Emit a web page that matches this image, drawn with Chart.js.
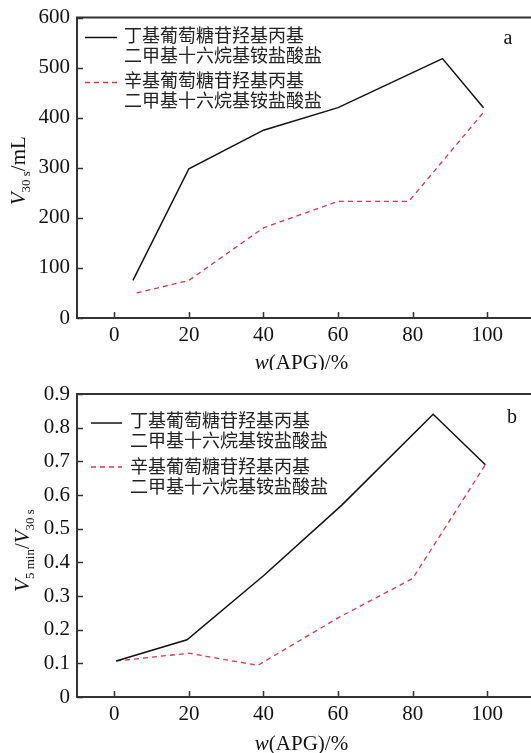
<!DOCTYPE html>
<html>
<head>
<meta charset="utf-8">
<script src="https://cdn.jsdelivr.net/npm/chart.js@4.4.1/dist/chart.umd.min.js"></script>
<style>
  html, body { margin: 0; padding: 0; background: #fff; overflow: hidden; }
  #wrapA { position: absolute; left: 0; top: 0; }
  #wrapB { position: absolute; left: 0; top: 370px; }
</style>
</head>
<body>
<div id="wrapA"><canvas id="chartA" width="532" height="370"></canvas></div>
<div id="wrapB"><canvas id="chartB" width="532" height="383"></canvas></div>
<script>
// data
const xTicks = [0, 20, 40, 60, 80, 100];
const yTicksA = [0, 100, 200, 300, 400, 500, 600];
const yTicksB = [0, 0.1, 0.2, 0.3, 0.4, 0.5, 0.6, 0.7, 0.8, 0.9];

const labelButyl = ['丁基葡萄糖苷羟基丙基', '二甲基十六烷基铵盐酸盐'];
const labelOctyl = ['辛基葡萄糖苷羟基丙基', '二甲基十六烷基铵盐酸盐'];

// panel a: V30s / mL
const xA_butyl = [5, 20, 40, 60, 88, 99];
const yA_butyl = [75, 298, 375, 420, 518, 420];
const xA_octyl = [6, 20, 40, 60, 79, 99.5];
const yA_octyl = [50, 75, 180, 233, 233, 415];

// panel b: V5min / V30s
const xB_butyl = [0.5, 19.5, 40, 61, 85.5, 99.5];
const yB_butyl = [0.107, 0.17, 0.36, 0.57, 0.84, 0.69];
const xB_octyl = [0.5, 20, 38.5, 60, 80, 99.5];
const yB_octyl = [0.107, 0.13, 0.094, 0.235, 0.352, 0.69];

const SERIF = '"Liberation Serif", "Times New Roman", serif';
const CJK = '"Noto Sans CJK SC", sans-serif';
const RED = '#e2324a';

function pts(xs, ys) { return xs.map((x, i) => ({ x: x, y: ys[i] })); }

// draw mixed text (italic / subscript pieces) centred at 0,0 of current transform
function drawRich(ctx, parts, size) {
  const fontOf = p => (p.italic ? 'italic ' : '') + (p.sub ? Math.round(size * 0.62) : size) + 'px ' + SERIF;
  let total = 0;
  parts.forEach(p => { ctx.font = fontOf(p); total += ctx.measureText(p.t).width; });
  let x = -total / 2;
  ctx.textAlign = 'left';
  ctx.textBaseline = 'alphabetic';
  parts.forEach(p => {
    ctx.font = fontOf(p);
    ctx.fillText(p.t, x, p.sub ? size * 0.55 : size * 0.35);
    x += ctx.measureText(p.t).width;
  });
}

const decor = {
  id: 'decor',
  afterDraw(chart, args, o) {
    const { ctx, chartArea: a, scales: { x, y } } = chart;
    ctx.save();
    // frame
    ctx.strokeStyle = '#333';
    ctx.lineWidth = 2;
    ctx.strokeRect(a.left, a.top, a.right - a.left, a.bottom - a.top);
    // inward tick marks
    ctx.lineWidth = 1.5;
    ctx.beginPath();
    x.ticks.forEach(t => {
      const px = Math.round(x.getPixelForValue(t.value)) + 0.5;
      ctx.moveTo(px, a.bottom); ctx.lineTo(px, a.bottom - 6);
    });
    y.ticks.forEach(t => {
      const py = Math.round(y.getPixelForValue(t.value)) + 0.5;
      ctx.moveTo(a.left, py); ctx.lineTo(a.left + 6, py);
    });
    ctx.stroke();

    // legend
    ctx.fillStyle = '#222';
    ctx.font = '18px ' + CJK;
    ctx.textAlign = 'left';
    ctx.textBaseline = 'middle';
    chart.data.datasets.forEach((ds, i) => {
      const L = o.legend[i];
      ctx.save();
      ctx.strokeStyle = ds.borderColor;
      ctx.lineWidth = ds.borderWidth;
      ctx.setLineDash(ds.borderDash || []);
      ctx.beginPath();
      ctx.moveTo(L.x0, a.top + L.ly); ctx.lineTo(L.x1, a.top + L.ly);
      ctx.stroke();
      ctx.restore();
      ds.label.forEach((line, k) => {
        ctx.fillText(line, L.tx, a.top + L.ty + k * 20);
      });
    });

    // panel letter
    ctx.font = '20px ' + SERIF;
    ctx.fillStyle = '#111';
    ctx.textAlign = 'center';
    ctx.fillText(o.letter, o.letterX, a.top + o.letterY);

    // axis titles
    ctx.save();
    ctx.translate((a.left + a.right) / 2 + o.xTitleDx, a.bottom + o.xTitleDy);
    drawRich(ctx, [{ t: 'w', italic: true }, { t: '(APG)/%' }], 21);
    ctx.restore();

    ctx.save();
    ctx.translate(o.yTitleX, (a.top + a.bottom) / 2 + o.yTitleDy);
    ctx.rotate(-Math.PI / 2);
    drawRich(ctx, o.yTitle, 21);
    ctx.restore();

    ctx.restore();
  }
};

function makeChart(id, sets, yTicks, yMax, xHeight, topPad, decorOpts, fmt) {
  return new Chart(document.getElementById(id).getContext('2d'), {
    type: 'line',
    data: {
      datasets: [
        { label: labelButyl, data: pts(sets[0], sets[1]), borderColor: '#111', borderWidth: 1.5, pointRadius: 0, fill: false, tension: 0 },
        { label: labelOctyl, data: pts(sets[2], sets[3]), borderColor: RED, borderWidth: 1.3, borderDash: [5, 4], pointRadius: 0, fill: false, tension: 0 }
      ]
    },
    options: {
      responsive: false,
      animation: false,
      devicePixelRatio: 1,
      layout: { padding: { left: 0, right: 0, top: topPad, bottom: 0 } },
      plugins: { legend: { display: false }, tooltip: { enabled: false }, decor: decorOpts },
      scales: {
        x: {
          type: 'linear', min: -10, max: 112,
          grid: { display: false, drawTicks: false },
          border: { display: false },
          afterBuildTicks: s => { s.ticks = xTicks.map(v => ({ value: v })); },
          afterFit: s => { s.height = xHeight; },
          ticks: { font: { family: SERIF, size: 21, lineHeight: 1 }, color: '#111', padding: 7, maxRotation: 0 }
        },
        y: {
          min: 0, max: yMax,
          grid: { display: false, drawTicks: false },
          border: { display: false },
          afterBuildTicks: s => { s.ticks = yTicks.map(v => ({ value: v })); },
          afterFit: s => { s.width = 77; },
          ticks: { font: { family: SERIF, size: 21, lineHeight: 1 }, color: '#111', padding: 7, callback: fmt }
        }
      }
    },
    plugins: [decor]
  });
}

makeChart('chartA', [xA_butyl, yA_butyl, xA_octyl, yA_octyl], yTicksA, 600, 52, 15, {
  legend: [
    { x0: 85, x1: 117, ly: 20, tx: 124, ty: 18 },
    { x0: 85, x1: 117, ly: 65, tx: 124, ty: 63 }
  ],
  letter: 'a', letterX: 508, letterY: 21,
  xTitleDx: -3, xTitleDy: 44,
  yTitleX: 18, yTitleDy: 3,
  yTitle: [{ t: 'V', italic: true }, { t: '30 s', sub: true }, { t: '/mL' }]
}, v => String(v));

makeChart('chartB', [xB_butyl, yB_butyl, xB_octyl, yB_octyl], yTicksB, 0.9, 56, 24, {
  legend: [
    { x0: 91, x1: 122, ly: 29, tx: 130, ty: 26 },
    { x0: 91, x1: 122, ly: 73, tx: 130, ty: 72 }
  ],
  letter: 'b', letterX: 512, letterY: 24,
  xTitleDx: -3, xTitleDy: 46,
  yTitleX: 22, yTitleDy: 5,
  yTitle: [{ t: 'V', italic: true }, { t: '5 min', sub: true }, { t: '/' }, { t: 'V', italic: true }, { t: '30 s', sub: true }]
}, v => (v === 0 ? '0' : v.toFixed(1)));
</script>
</body>
</html>
